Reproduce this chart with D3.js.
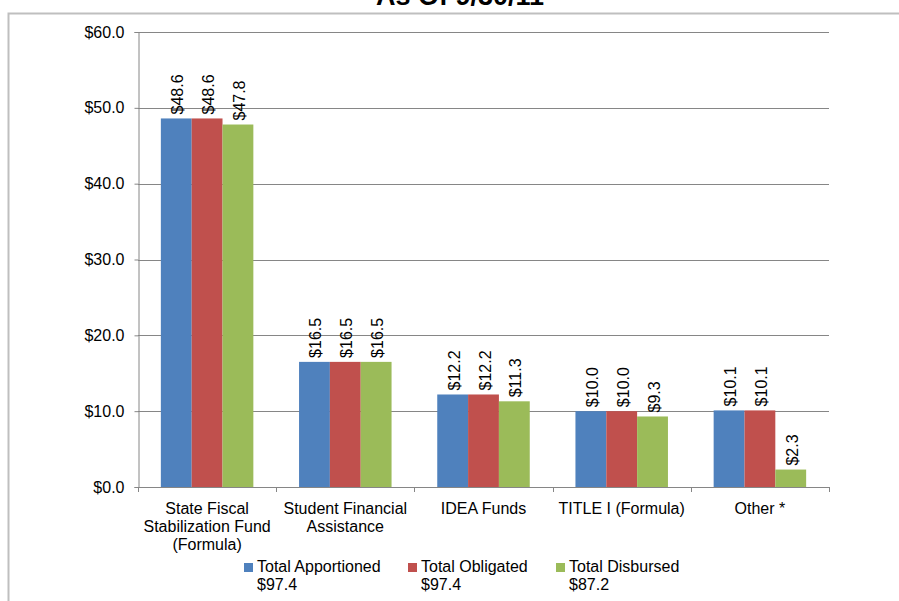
<!DOCTYPE html>
<html>
<head>
<meta charset="utf-8">
<script src="https://cdn.jsdelivr.net/npm/d3@7"></script>
<style>
  html, body { margin: 0; padding: 0; background: #fff; }
  svg { display: block; font-family: "Liberation Sans", Arial, sans-serif; }
</style>
</head>
<body>
<svg id="chart" width="899" height="601"></svg>
<script>
// Recovery Act education funds by program (billions of dollars)
const categories = [
  ["State Fiscal", "Stabilization Fund", "(Formula)"],
  ["Student Financial", "Assistance"],
  ["IDEA Funds"],
  ["TITLE I (Formula)"],
  ["Other *"]
];
const seriesNames = ["Total Apportioned", "Total Obligated", "Total Disbursed"];
const seriesTotals = ["$97.4", "$97.4", "$87.2"];
const apportioned = [48.6, 16.5, 12.2, 10.0, 10.1];
const obligated   = [48.6, 16.5, 12.2, 10.0, 10.1];
const disbursed   = [47.8, 16.5, 11.3, 9.3, 2.3];
const yTicks = [0, 10, 20, 30, 40, 50, 60];
const colors = ["#4f81bd", "#c0504d", "#9bbb59"];

const series = [apportioned, obligated, disbursed];
const svg = d3.select("#chart");
const FONT = 16;

// outer chart frame (extends beyond the visible page on right and bottom)
svg.append("rect")
  .attr("x", 8.5).attr("y", 13.5)
  .attr("width", 1000).attr("height", 1000)
  .attr("fill", "none").attr("stroke", "#bfbfbf").attr("stroke-width", 2);

// title, partially clipped at the top of the page
svg.append("text")
  .attr("x", 460).attr("y", 5)
  .attr("text-anchor", "middle")
  .attr("font-size", 27).attr("font-weight", "bold")
  .text("As Of 9/30/11");

const plot = { left: 138, right: 829, top: 32, bottom: 487 };

const x0 = d3.scaleBand()
  .domain(d3.range(categories.length))
  .range([plot.left, plot.right]);
const x1 = d3.scaleBand()
  .domain(d3.range(series.length))
  .range([0, 92.5]);
const groupOffset = (x0.bandwidth() - 92.5) / 2;
const y = d3.scaleLinear().domain([0, 60]).range([plot.bottom, plot.top]);

// gridlines
svg.append("g")
  .selectAll("line")
  .data(yTicks.filter(d => d > 0))
  .join("line")
  .attr("x1", plot.left).attr("x2", plot.right)
  .attr("y1", d => Math.round(y(d)) + 0.5).attr("y2", d => Math.round(y(d)) + 0.5)
  .attr("stroke", "#868686").attr("stroke-width", 1);

// y axis
const yAxis = svg.append("g")
  .attr("transform", `translate(${plot.left + 0.5},0)`)
  .call(d3.axisLeft(y).tickValues(yTicks).tickSize(4).tickPadding(10)
    .tickFormat(d => "$" + d3.format(".1f")(d)));
yAxis.select(".domain").attr("stroke", "#868686");
yAxis.selectAll(".tick line").attr("stroke", "#868686");
yAxis.selectAll(".tick text")
  .attr("font-size", FONT).attr("fill", "#000")
  .attr("font-family", "Liberation Sans, Arial, sans-serif");

// bars
const groups = svg.append("g")
  .selectAll("g")
  .data(categories.map((c, i) => i))
  .join("g")
  .attr("transform", i => `translate(${x0(i) + groupOffset},0)`);

groups.selectAll("rect")
  .data(i => series.map((s, k) => ({ k, v: s[i] })))
  .join("rect")
  .attr("x", d => x1(d.k))
  .attr("y", d => y(d.v))
  .attr("width", x1.bandwidth())
  .attr("height", d => y(0) - y(d.v))
  .attr("fill", d => colors[d.k]);

// rotated value labels
groups.selectAll("text")
  .data(i => series.map((s, k) => ({ k, v: s[i] })))
  .join("text")
  .attr("transform", d => `translate(${x1(d.k) + x1.bandwidth() / 2 + 7},${y(d.v) - 4}) rotate(-90)`)
  .attr("font-size", FONT)
  .attr("fill", "#000")
  .text(d => "$" + d3.format(".1f")(d.v));

// x axis line and category boundary ticks
const xa = svg.append("g");
xa.append("line")
  .attr("x1", plot.left).attr("x2", plot.right)
  .attr("y1", plot.bottom + 0.5).attr("y2", plot.bottom + 0.5)
  .attr("stroke", "#868686");
xa.selectAll("line.tk")
  .data(d3.range(categories.length + 1))
  .join("line")
  .attr("class", "tk")
  .attr("x1", i => Math.round(plot.left + i * x0.bandwidth()) + 0.5)
  .attr("x2", i => Math.round(plot.left + i * x0.bandwidth()) + 0.5)
  .attr("y1", plot.bottom).attr("y2", plot.bottom + 5)
  .attr("stroke", "#868686");

// category labels
const catLabels = svg.append("g")
  .selectAll("text")
  .data(categories)
  .join("text")
  .attr("x", (d, i) => x0(i) + x0.bandwidth() / 2)
  .attr("y", 514)
  .attr("text-anchor", "middle")
  .attr("font-size", FONT)
  .attr("fill", "#000");
catLabels.selectAll("tspan")
  .data(d => d)
  .join("tspan")
  .attr("x", function () { return this.parentNode.getAttribute("x"); })
  .attr("dy", (d, j) => j === 0 ? 0 : 18)
  .text(d => d);

// legend
const legendX = [244, 408, 556];
const legend = svg.append("g")
  .selectAll("g")
  .data(seriesNames)
  .join("g")
  .attr("transform", (d, i) => `translate(${legendX[i]},0)`);
legend.append("rect")
  .attr("x", 0).attr("y", 563)
  .attr("width", 9).attr("height", 9)
  .attr("fill", (d, i) => colors[i]);
legend.append("text")
  .attr("x", 13).attr("y", 572)
  .attr("font-size", FONT)
  .text(d => d);
legend.append("text")
  .attr("x", 13).attr("y", 590)
  .attr("font-size", FONT)
  .text((d, i) => seriesTotals[i]);
</script>
</body>
</html>
